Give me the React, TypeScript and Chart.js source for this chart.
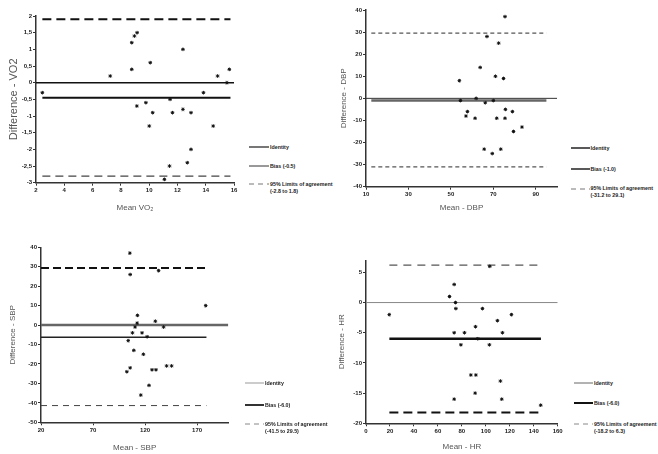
import React, { useEffect, useRef } from "react";
import { Chart, registerables } from "chart.js";

Chart.register(...registerables);

const FONT = "'Liberation Sans', Arial, Helvetica, sans-serif";

// ---------- VO2 ----------
const vo2Mean = [2.45, 7.25, 8.77, 8.77, 8.96, 9.15, 9.13, 9.77, 10.08, 10.01, 10.25, 11.08, 11.44, 11.48, 11.65, 12.39, 12.39, 12.7, 12.96, 12.96, 13.84, 14.53, 14.84, 15.5, 15.67];
const vo2Diff = [-0.3, 0.2, 0.4, 1.2, 1.4, 1.5, -0.7, -0.6, 0.6, -1.3, -0.9, -2.9, -2.5, -0.5, -0.9, 1.0, -0.8, -2.4, -2.0, -0.9, -0.3, -1.3, 0.2, 0.0, 0.4];
const vo2Limits = [-0.45, 1.9, -2.8]; // bias, upper, lower
const vo2XTicks = [2, 4, 6, 8, 10, 12, 14, 16];
const vo2YTicks = [-3, -2.5, -2, -1.5, -1, -0.5, 0, 0.5, 1, 1.5, 2];
const vo2LineRange = [2.45, 15.75];
const vo2IdentityRange = [2, 16];
const vo2Legend = ["Identity", "Bias (-0.5)", "95% Limits of agreement", "(-2.8 to 1.8)"];

// ---------- DBP ----------
const dbpMean = [75.5, 67, 72.5, 63.8, 54, 71, 74.8, 61.9, 66.2, 57.8, 57.1, 61.4, 71.6, 75.7, 75.5, 79, 79.5, 83.5, 65.7, 69.5, 73.5, 54.5, 70];
const dbpDiff = [37, 28, 25, 14, 8, 10, 9, 0, -2, -6, -8, -9, -9, -5, -9, -6, -15, -13, -23, -25, -23, -1, -1];
const dbpLimits = [-1, 29.5, -31];
const dbpXTicks = [10, 30, 50, 70, 90];
const dbpYTicks = [-40, -30, -20, -10, 0, 10, 20, 30, 40];
const dbpLineRange = [12.5, 95];
const dbpIdentityRange = [10, 100];
const dbpLegend = ["Identity", "Bias (-1.0)", "95% Limits of agreement", "(-31.2 to 29.1)"];

// ---------- SBP ----------
const sbpMean = [105.4, 105.7, 133, 178.3, 112.7, 112.4, 110.4, 107.9, 117.1, 129.9, 137.8, 103.8, 109.2, 118.4, 102.5, 105.7, 126.7, 130.5, 123.8, 115.9, 140.7, 145.5, 122];
const sbpDiff = [37, 26, 28, 10, 5, 1, -1, -4, -4, 2, -1, -8, -13, -15, -24, -22, -23, -23, -31, -36, -21, -21, -6];
const sbpLimits = [-6.2, 29.3, -41.4];
const sbpXTicks = [20, 70, 120, 170];
const sbpYTicks = [-50, -40, -30, -20, -10, 0, 10, 20, 30, 40];
const sbpLineRange = [20, 179];
const sbpIdentityRange = [20, 200];
const sbpLegend = ["Identity", "Bias (-6.0)", "95% Limits of agreement", "(-41.5 to 29.5)"];

// ---------- HR ----------
const hrMean = [19.4, 73.6, 69.7, 74.7, 75, 97.2, 73.6, 82.2, 91.4, 93.3, 79.2, 103, 109.7, 113.9, 121.4, 87.5, 91.7, 112.2, 73.6, 91.1, 113.3, 145.8, 103.3];
const hrDiff = [-2, 3, 1, 0, -1, -1, -5, -5, -4, -6, -7, -7, -3, -5, -2, -12, -12, -13, -16, -15, -16, -17, 6];
const hrLimits = [-6.0, 6.2, -18.2];
const hrXTicks = [0, 20, 40, 60, 80, 100, 120, 140, 160];
const hrYTicks = [-20, -15, -10, -5, 0, 5];
const hrLineRange = [19.5, 146];
const hrIdentityRange = [0, 160];
const hrLegend = ["Identity", "Bias (-6.0)", "95% Limits of agreement", "(-18.2 to 6.3)"];

type LS = { color: string; width: number; dash?: number[] };

interface PanelProps {
  left: number; top: number; width: number; height: number;
  padTop: number; padRight: number; yAxisW: number; xAxisH: number;
  yTitlePad: number; xTitlePad: number; yTitleSize: number;
  mean: number[]; diff: number[]; limits: number[];
  xMin: number; xMax: number; yMin: number; yMax: number;
  xTicks: number[]; yTicks: number[];
  lineRange: number[]; identityRange: number[];
  xTitle: string; yTitle: string; comma?: boolean;
  styles: LS[]; // identity, bias, upper, lower
}

function Panel(p: PanelProps) {
  const ref = useRef<HTMLCanvasElement>(null);
  useEffect(() => {
    if (!ref.current) return;
    const ln = (y: number, range: number[], s: LS) => ({
      data: range.map((x) => ({ x, y })),
      showLine: true,
      borderColor: s.color,
      backgroundColor: s.color,
      borderWidth: s.width,
      borderDash: s.dash || [],
      pointRadius: 0,
      order: 2,
    });
    const fmt = (v: any) => (p.comma ? String(v).replace(".", ",") : String(v));
    const tickFont = { size: 6, weight: "bold" as const, family: FONT };
    const grid = { display: true, drawOnChartArea: false, drawTicks: true, tickLength: 3, tickWidth: 1, tickColor: "#333" };
    const border = { display: true, color: "#333", width: 1.5 };
    const chart = new Chart(ref.current, {
      type: "scatter",
      data: {
        datasets: [
          ln(0, p.identityRange, p.styles[0]),
          ln(p.limits[0], p.lineRange, p.styles[1]),
          ln(p.limits[1], p.lineRange, p.styles[2]),
          ln(p.limits[2], p.lineRange, p.styles[3]),
          {
            data: p.mean.map((x, i) => ({ x, y: p.diff[i] })),
            pointStyle: "star",
            pointRadius: 1.8,
            borderColor: "#111",
            backgroundColor: "#111",
            borderWidth: 1,
            order: 1,
          },
        ] as any,
      },
      options: {
        responsive: false,
        animation: false,
        devicePixelRatio: 1,
        layout: { padding: { left: 0, top: p.padTop, right: p.padRight, bottom: 0 } },
        plugins: { legend: { display: false }, tooltip: { enabled: false } },
        scales: {
          x: {
            type: "linear",
            min: p.xMin,
            max: p.xMax,
            afterBuildTicks: (s: any) => { s.ticks = p.xTicks.map((v) => ({ value: v })); },
            afterFit: (s: any) => { s.height = p.xAxisH; },
            ticks: { font: tickFont, color: "#222", padding: 1, autoSkip: false, maxRotation: 0, callback: fmt },
            grid,
            border,
            title: { display: true, text: p.xTitle, font: { size: 8, family: FONT }, color: "#555", padding: { top: 0, bottom: p.xTitlePad } },
          },
          y: {
            type: "linear",
            min: p.yMin,
            max: p.yMax,
            afterBuildTicks: (s: any) => { s.ticks = p.yTicks.map((v) => ({ value: v })); },
            afterFit: (s: any) => { s.width = p.yAxisW; },
            ticks: { font: tickFont, color: "#222", padding: 1, autoSkip: false, callback: fmt },
            grid,
            border,
            title: { display: true, text: p.yTitle, font: { size: p.yTitleSize, family: FONT }, color: "#555", padding: { top: p.yTitlePad, bottom: 0 } },
          },
        },
      } as any,
    });
    return () => chart.destroy();
  }, []);
  return (
    <canvas
      ref={ref}
      width={p.width}
      height={p.height}
      style={{ position: "absolute", left: p.left, top: p.top, width: p.width, height: p.height }}
    />
  );
}

interface LegendProps { lineX: number; lineW: number; textX: number; ys: number[]; texts: string[]; styles: LS[] }

function Legend({ lineX, lineW, textX, ys, texts, styles }: LegendProps) {
  const labels = [texts[0], texts[1], texts[2] + "\n" + texts[3]];
  return (
    <>
      {ys.map((y, i) => (
        <React.Fragment key={i}>
          <svg
            width={lineW}
            height={6}
            style={{ position: "absolute", left: lineX, top: y - 3, overflow: "visible" }}
          >
            <line
              x1={0}
              y1={3}
              x2={lineW}
              y2={3}
              stroke={styles[i].color}
              strokeWidth={styles[i].width}
              strokeDasharray={styles[i].dash ? styles[i].dash!.join(" ") : undefined}
            />
          </svg>
          <div
            style={{
              position: "absolute",
              left: textX,
              top: y - 3.5,
              fontFamily: FONT,
              fontSize: 5.3,
              fontWeight: "bold",
              lineHeight: "7px",
              whiteSpace: "pre",
              color: "#222",
            }}
          >
            {labels[i]}
          </div>
        </React.Fragment>
      ))}
    </>
  );
}

export default function App() {
  return (
    <div style={{ position: "fixed", left: 0, top: 0, width: 658, height: 454, background: "#fff", overflow: "hidden" }}>
      <Panel
        left={0} top={0} width={245} height={215}
        padTop={16} padRight={11} yAxisW={36} xAxisH={32.3}
        yTitlePad={7} xTitlePad={2.6} yTitleSize={11}
        mean={vo2Mean} diff={vo2Diff} limits={vo2Limits}
        xMin={2} xMax={16} yMin={-3} yMax={2}
        xTicks={vo2XTicks} yTicks={vo2YTicks}
        lineRange={vo2LineRange} identityRange={vo2IdentityRange}
        xTitle="Mean VO₂" yTitle="Difference - VO2" comma
        styles={[
          { color: "#111", width: 1.5 },
          { color: "#111", width: 2 },
          { color: "#111", width: 2, dash: [9, 5] },
          { color: "#444", width: 1.2, dash: [8, 5] },
        ]}
      />
      <Legend
        lineX={249} lineW={20} textX={270} ys={[147.3, 166, 184]} texts={vo2Legend}
        styles={[
          { color: "#777", width: 2 },
          { color: "#333", width: 1 },
          { color: "#777", width: 1, dash: [5, 4] },
        ]}
      />

      <Panel
        left={330} top={0} width={235} height={215}
        padTop={10} padRight={8} yAxisW={36} xAxisH={28.3}
        yTitlePad={8.6} xTitlePad={2.6} yTitleSize={8}
        mean={dbpMean} diff={dbpDiff} limits={dbpLimits}
        xMin={10} xMax={100} yMin={-40} yMax={40}
        xTicks={dbpXTicks} yTicks={dbpYTicks}
        lineRange={dbpLineRange} identityRange={dbpIdentityRange}
        xTitle="Mean - DBP" yTitle="Difference - DBP"
        styles={[
          { color: "#333", width: 1 },
          { color: "#666", width: 2.5 },
          { color: "#555", width: 1.3, dash: [4, 3] },
          { color: "#555", width: 1.3, dash: [4, 3] },
        ]}
      />
      <Legend
        lineX={571} lineW={19} textX={590.5} ys={[148.3, 169, 188.7]} texts={dbpLegend}
        styles={[
          { color: "#222", width: 1.5 },
          { color: "#222", width: 1.5 },
          { color: "#777", width: 1, dash: [5, 4] },
        ]}
      />

      <Panel
        left={0} top={235} width={245} height={219}
        padTop={12.3} padRight={16.7} yAxisW={41} xAxisH={31.7}
        yTitlePad={7.6} xTitlePad={1.9} yTitleSize={8}
        mean={sbpMean} diff={sbpDiff} limits={sbpLimits}
        xMin={20} xMax={200} yMin={-50} yMax={40}
        xTicks={sbpXTicks} yTicks={sbpYTicks}
        lineRange={sbpLineRange} identityRange={sbpIdentityRange}
        xTitle="Mean - SBP" yTitle="Difference - SBP"
        styles={[
          { color: "#666", width: 2.5 },
          { color: "#222", width: 1.5 },
          { color: "#111", width: 2, dash: [8, 4] },
          { color: "#444", width: 1, dash: [6, 5] },
        ]}
      />
      <Legend
        lineX={245} lineW={19} textX={265} ys={[383.3, 405, 424]} texts={sbpLegend}
        styles={[
          { color: "#999", width: 1 },
          { color: "#333", width: 2 },
          { color: "#888", width: 1, dash: [5, 4] },
        ]}
      />

      <Panel
        left={330} top={240} width={235} height={214}
        padTop={20.3} padRight={7.3} yAxisW={36} xAxisH={30.7}
        yTitlePad={6.6} xTitlePad={2.9} yTitleSize={8}
        mean={hrMean} diff={hrDiff} limits={hrLimits}
        xMin={0} xMax={160} yMin={-20} yMax={7}
        xTicks={hrXTicks} yTicks={hrYTicks}
        lineRange={hrLineRange} identityRange={hrIdentityRange}
        xTitle="Mean - HR" yTitle="Difference - HR"
        styles={[
          { color: "#888", width: 1 },
          { color: "#111", width: 2.5 },
          { color: "#555", width: 1.2, dash: [8, 6] },
          { color: "#111", width: 2, dash: [9, 5] },
        ]}
      />
      <Legend
        lineX={574} lineW={19} textX={594} ys={[383.3, 403.3, 424]} texts={hrLegend}
        styles={[
          { color: "#666", width: 1 },
          { color: "#111", width: 2 },
          { color: "#888", width: 1, dash: [5, 4] },
        ]}
      />
    </div>
  );
}
